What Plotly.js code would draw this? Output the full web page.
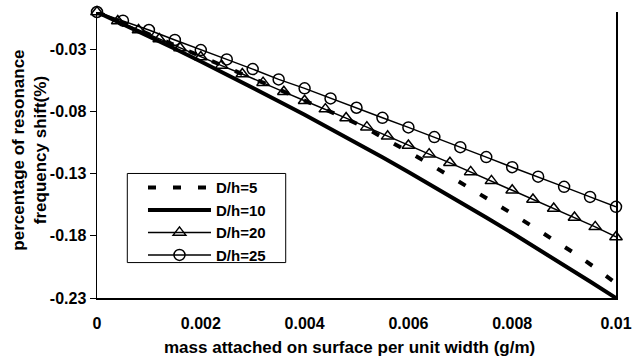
<!DOCTYPE html>
<html><head><meta charset="utf-8">
<script src="https://cdn.plot.ly/plotly-3.0.1.min.js"></script>
<style>html,body{margin:0;padding:0;background:#fff}#chart{width:633px;height:358px}</style>
</head><body><div id="chart"></div>
<script>
const seriesNames = ["D/h=5", "D/h=10", "D/h=20", "D/h=25"];
const massStep04 = [0, 0.0004, 0.0008, 0.0012, 0.0016, 0.002, 0.0024, 0.0028, 0.0032, 0.0036, 0.004, 0.0044, 0.0048, 0.0052, 0.0056, 0.006, 0.0064, 0.0068, 0.0072, 0.0076, 0.008, 0.0084, 0.0088, 0.0092, 0.0096, 0.01];
const massStep05 = [0, 0.0005, 0.001, 0.0015, 0.002, 0.0025, 0.003, 0.0035, 0.004, 0.0045, 0.005, 0.0055, 0.006, 0.0065, 0.007, 0.0075, 0.008, 0.0085, 0.009, 0.0095, 0.01];
const shiftDh5 = [0, -0.0072, -0.0145, -0.0217, -0.0290, -0.0362, -0.0431, -0.0499, -0.0568, -0.0640, -0.0712, -0.0785, -0.0857, -0.0938, -0.1026, -0.1123, -0.1220, -0.1320, -0.1417, -0.1517, -0.1622, -0.1727, -0.1831, -0.1940, -0.2057, -0.2182];
const shiftDh10 = [0, -0.0097, -0.0195, -0.0296, -0.0398, -0.0502, -0.0609, -0.0717, -0.0827, -0.0939, -0.1053, -0.1169, -0.1287, -0.1407, -0.1529, -0.1653, -0.1778, -0.1906, -0.2035, -0.2167, -0.2300];
const shiftDh20 = [0, -0.0072, -0.0145, -0.0217, -0.0290, -0.0362, -0.0431, -0.0499, -0.0568, -0.0642, -0.0714, -0.0781, -0.0853, -0.0926, -0.1000, -0.1073, -0.1143, -0.1213, -0.1286, -0.1358, -0.1433, -0.1508, -0.1580, -0.1653, -0.1728, -0.1809];
const shiftDh25 = [0, -0.0070, -0.0145, -0.0225, -0.0306, -0.0381, -0.0459, -0.0542, -0.0614, -0.0695, -0.0770, -0.0851, -0.0928, -0.1006, -0.1087, -0.1167, -0.1248, -0.1324, -0.1406, -0.1487, -0.1567];
const xTickVals = [0, 0.002, 0.004, 0.006, 0.008, 0.01];
const xTickText = ["0", "0.002", "0.004", "0.006", "0.008", "0.01"];
const yTickVals = [-0.23, -0.18, -0.13, -0.08, -0.03];
const yTickText = ["-0.23", "-0.18", "-0.13", "-0.08", "-0.03"];
const xTitle = "mass attached on surface per unit width (g/m)";
const yTitle = "percentage of resonance<br>frequency shift(%)";

const FONT = "Liberation Sans, Arial, sans-serif";
const traces = [
  {x: massStep04, y: shiftDh5, name: seriesNames[0], mode: "lines", cliponaxis: false,
   line: {color: "#000", width: 4, dash: "8px,17px"}},
  {x: massStep05, y: shiftDh10, name: seriesNames[1], mode: "lines", cliponaxis: false,
   line: {color: "#000", width: 4}},
  {x: massStep04, y: shiftDh20, name: seriesNames[2], mode: "lines+markers", cliponaxis: false,
   line: {color: "#000", width: 1.5},
   marker: {symbol: "triangle-up-open", size: 11, color: "#000", line: {width: 1.5, color: "#000"}}},
  {x: massStep05, y: shiftDh25, name: seriesNames[3], mode: "lines+markers", cliponaxis: false,
   line: {color: "#000", width: 1.5},
   marker: {symbol: "circle-open", size: 11, color: "#000", line: {width: 1.5, color: "#000"}}}
];

const layout = {
  width: 633, height: 358,
  margin: {l: 97, r: 17, t: 12, b: 60},
  paper_bgcolor: "#fff", plot_bgcolor: "#fff",
  font: {family: FONT, color: "#000", size: 14, weight: "bold"},
  showlegend: true,
  legend: {x: 0.0886, y: 0.4435, xanchor: "left", yanchor: "top",
    borderwidth: 0, bgcolor: "rgba(0,0,0,0)",
    font: {family: FONT, size: 15, weight: "bold", color: "#000"},
    itemwidth: 63, tracegroupgap: 0},
  shapes: [{type: "rect", xref: "paper", yref: "paper",
    x0: 0.0584, x1: 0.3636, y0: 0.1239, y1: 0.4354,
    line: {color: "#000", width: 1}, fillcolor: "rgba(255,255,255,0)", layer: "above"}],
  annotations: [
    {text: yTitle, xref: "paper", yref: "paper", x: 0, y: 0.5, xshift: -68.3, yshift: 5,
     xanchor: "center", yanchor: "middle", textangle: -90, showarrow: false,
     font: {family: FONT, size: 17, weight: "bold", color: "#000"}},
    {text: xTitle, xref: "paper", yref: "paper", x: 0.5, y: 0, xshift: -7, yshift: -49.3,
     xanchor: "center", yanchor: "middle", showarrow: false,
     font: {family: FONT, size: 17, weight: "bold", color: "#000"}}
  ],
  xaxis: {range: [0, 0.01], tickvals: xTickVals, ticktext: xTickText,
    showgrid: false, zeroline: false, showline: true, linecolor: "#000", linewidth: 1.5,
    ticks: "", ticklabelstandoff: 10, tickfont: {family: FONT, size: 16, weight: "bold"}},
  xaxis2: {range: [0, 0.01], overlaying: "x", side: "top", tickvals: xTickVals,
    showticklabels: false, ticks: "inside", ticklen: 5, tickcolor: "#000", tickwidth: 1,
    showline: true, linecolor: "#000", linewidth: 1.5, showgrid: false, zeroline: false},
  yaxis: {range: [-0.23, 0], tickvals: yTickVals, ticktext: yTickText,
    showgrid: false, zeroline: false, showline: true, mirror: true, linecolor: "#000", linewidth: 1.5,
    ticks: "outside", ticklen: 6, tickcolor: "#000", tickwidth: 1,
    tickfont: {family: FONT, size: 16, weight: "bold"}}
};

Plotly.newPlot("chart", traces, layout, {displayModeBar: false, staticPlot: true});
</script></body></html>
